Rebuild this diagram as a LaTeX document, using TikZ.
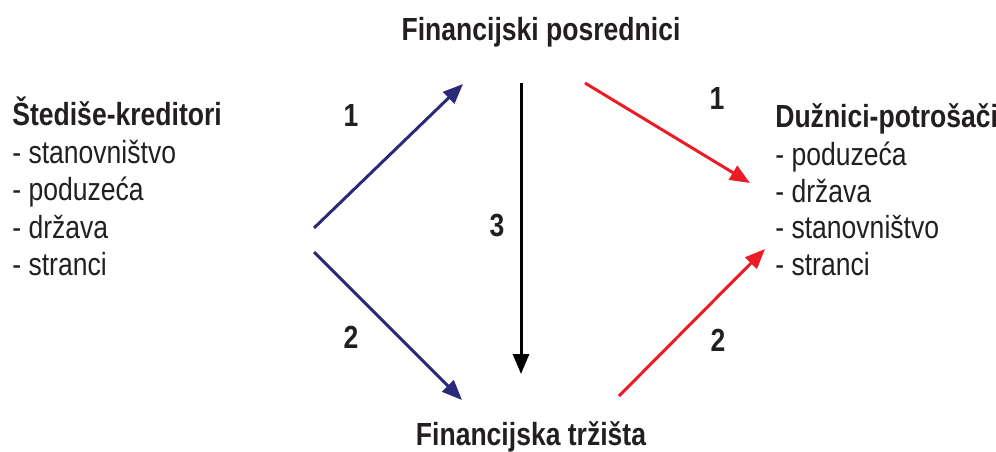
\documentclass[tikz,border=0pt]{standalone}
\usepackage{fontspec}
\setmainfont[FakeStretch=0.83]{Liberation Sans}
\usetikzlibrary{arrows.meta}

\definecolor{navyarrow}{RGB}{43,42,122}
\definecolor{redarrow}{RGB}{237,28,36}
\definecolor{textgray}{RGB}{35,31,32}

\begin{document}
\begin{tikzpicture}[
        x=0.02cm, y=-0.02cm,
        heading/.style={
            font=\fontsize{18.2}{21}\selectfont\bfseries,
            text=textgray,
            inner sep=0pt
        },
        item/.style={
            font=\fontsize{18.2}{21}\selectfont,
            text=textgray,
            inner sep=0pt,
            anchor=base west
        },
        number/.style={
            font=\fontsize{18.2}{21}\selectfont\bfseries,
            text=textgray,
            inner sep=0pt
        },
        flow/.style={
            line width=1.7pt,
            -{Triangle[length=0.4cm, width=0.32cm]}
        }
    ]

    % fixed frame
    \useasboundingbox (0,0) rectangle (996,451);

    % ---------------------------------------------------------
    % Headings
    % ---------------------------------------------------------
    \node[heading, anchor=base] (posrednici) at (541,40) {Financijski posrednici};
    \node[heading, anchor=base] (trzista) at (531,445) {Financijska tržišta};

    % Left block
    \node[heading, anchor=base west] (stedise) at (12,125) {Štediše-kreditori};
    \node[item] (s1) at (12,163) {- stanovništvo};
    \node[item] (s2) at (12,200) {- poduzeća};
    \node[item] (s3) at (12,238) {- država};
    \node[item] (s4) at (12,275) {- stranci};

    % Right block
    \node[heading, anchor=base west] (duznici) at (775,127) {Dužnici-potrošači};
    \node[item] (d1) at (775,165) {- poduzeća};
    \node[item] (d2) at (775,202) {- država};
    \node[item] (d3) at (775,238) {- stanovništvo};
    \node[item] (d4) at (775,275) {- stranci};

    % ---------------------------------------------------------
    % Arrow ends
    % ---------------------------------------------------------
    \coordinate (lefttop) at (314,228);
    \coordinate (leftbot) at (314,252);
    \coordinate (midtop) at (463,84);
    \coordinate (midbot) at (462,400);
    \coordinate (downtop) at (521,83);
    \coordinate (downbot) at (521,374);
    \coordinate (redtop) at (585,83);
    \coordinate (redbot) at (619,396);
    \coordinate (righttop) at (750,183);
    \coordinate (rightbot) at (765,249);

    % ---------------------------------------------------------
    % Arrows
    % ---------------------------------------------------------
    \draw[flow, navyarrow] (lefttop) -- (midtop);
    \draw[flow, navyarrow] (leftbot) -- (midbot);
    \draw[flow, black] (downtop) -- (downbot);
    \draw[flow, redarrow] (redtop) -- (righttop);
    \draw[flow, redarrow] (redbot) -- (rightbot);

    % numbers
    \node[number] (n1l) at (351,115) {1};
    \node[number] (n2l) at (351,337) {2};
    \node[number] (n3) at (497,226) {3};
    \node[number] (n1r) at (717,98) {1};
    \node[number] (n2r) at (718,340) {2};

\end{tikzpicture}
\end{document}
